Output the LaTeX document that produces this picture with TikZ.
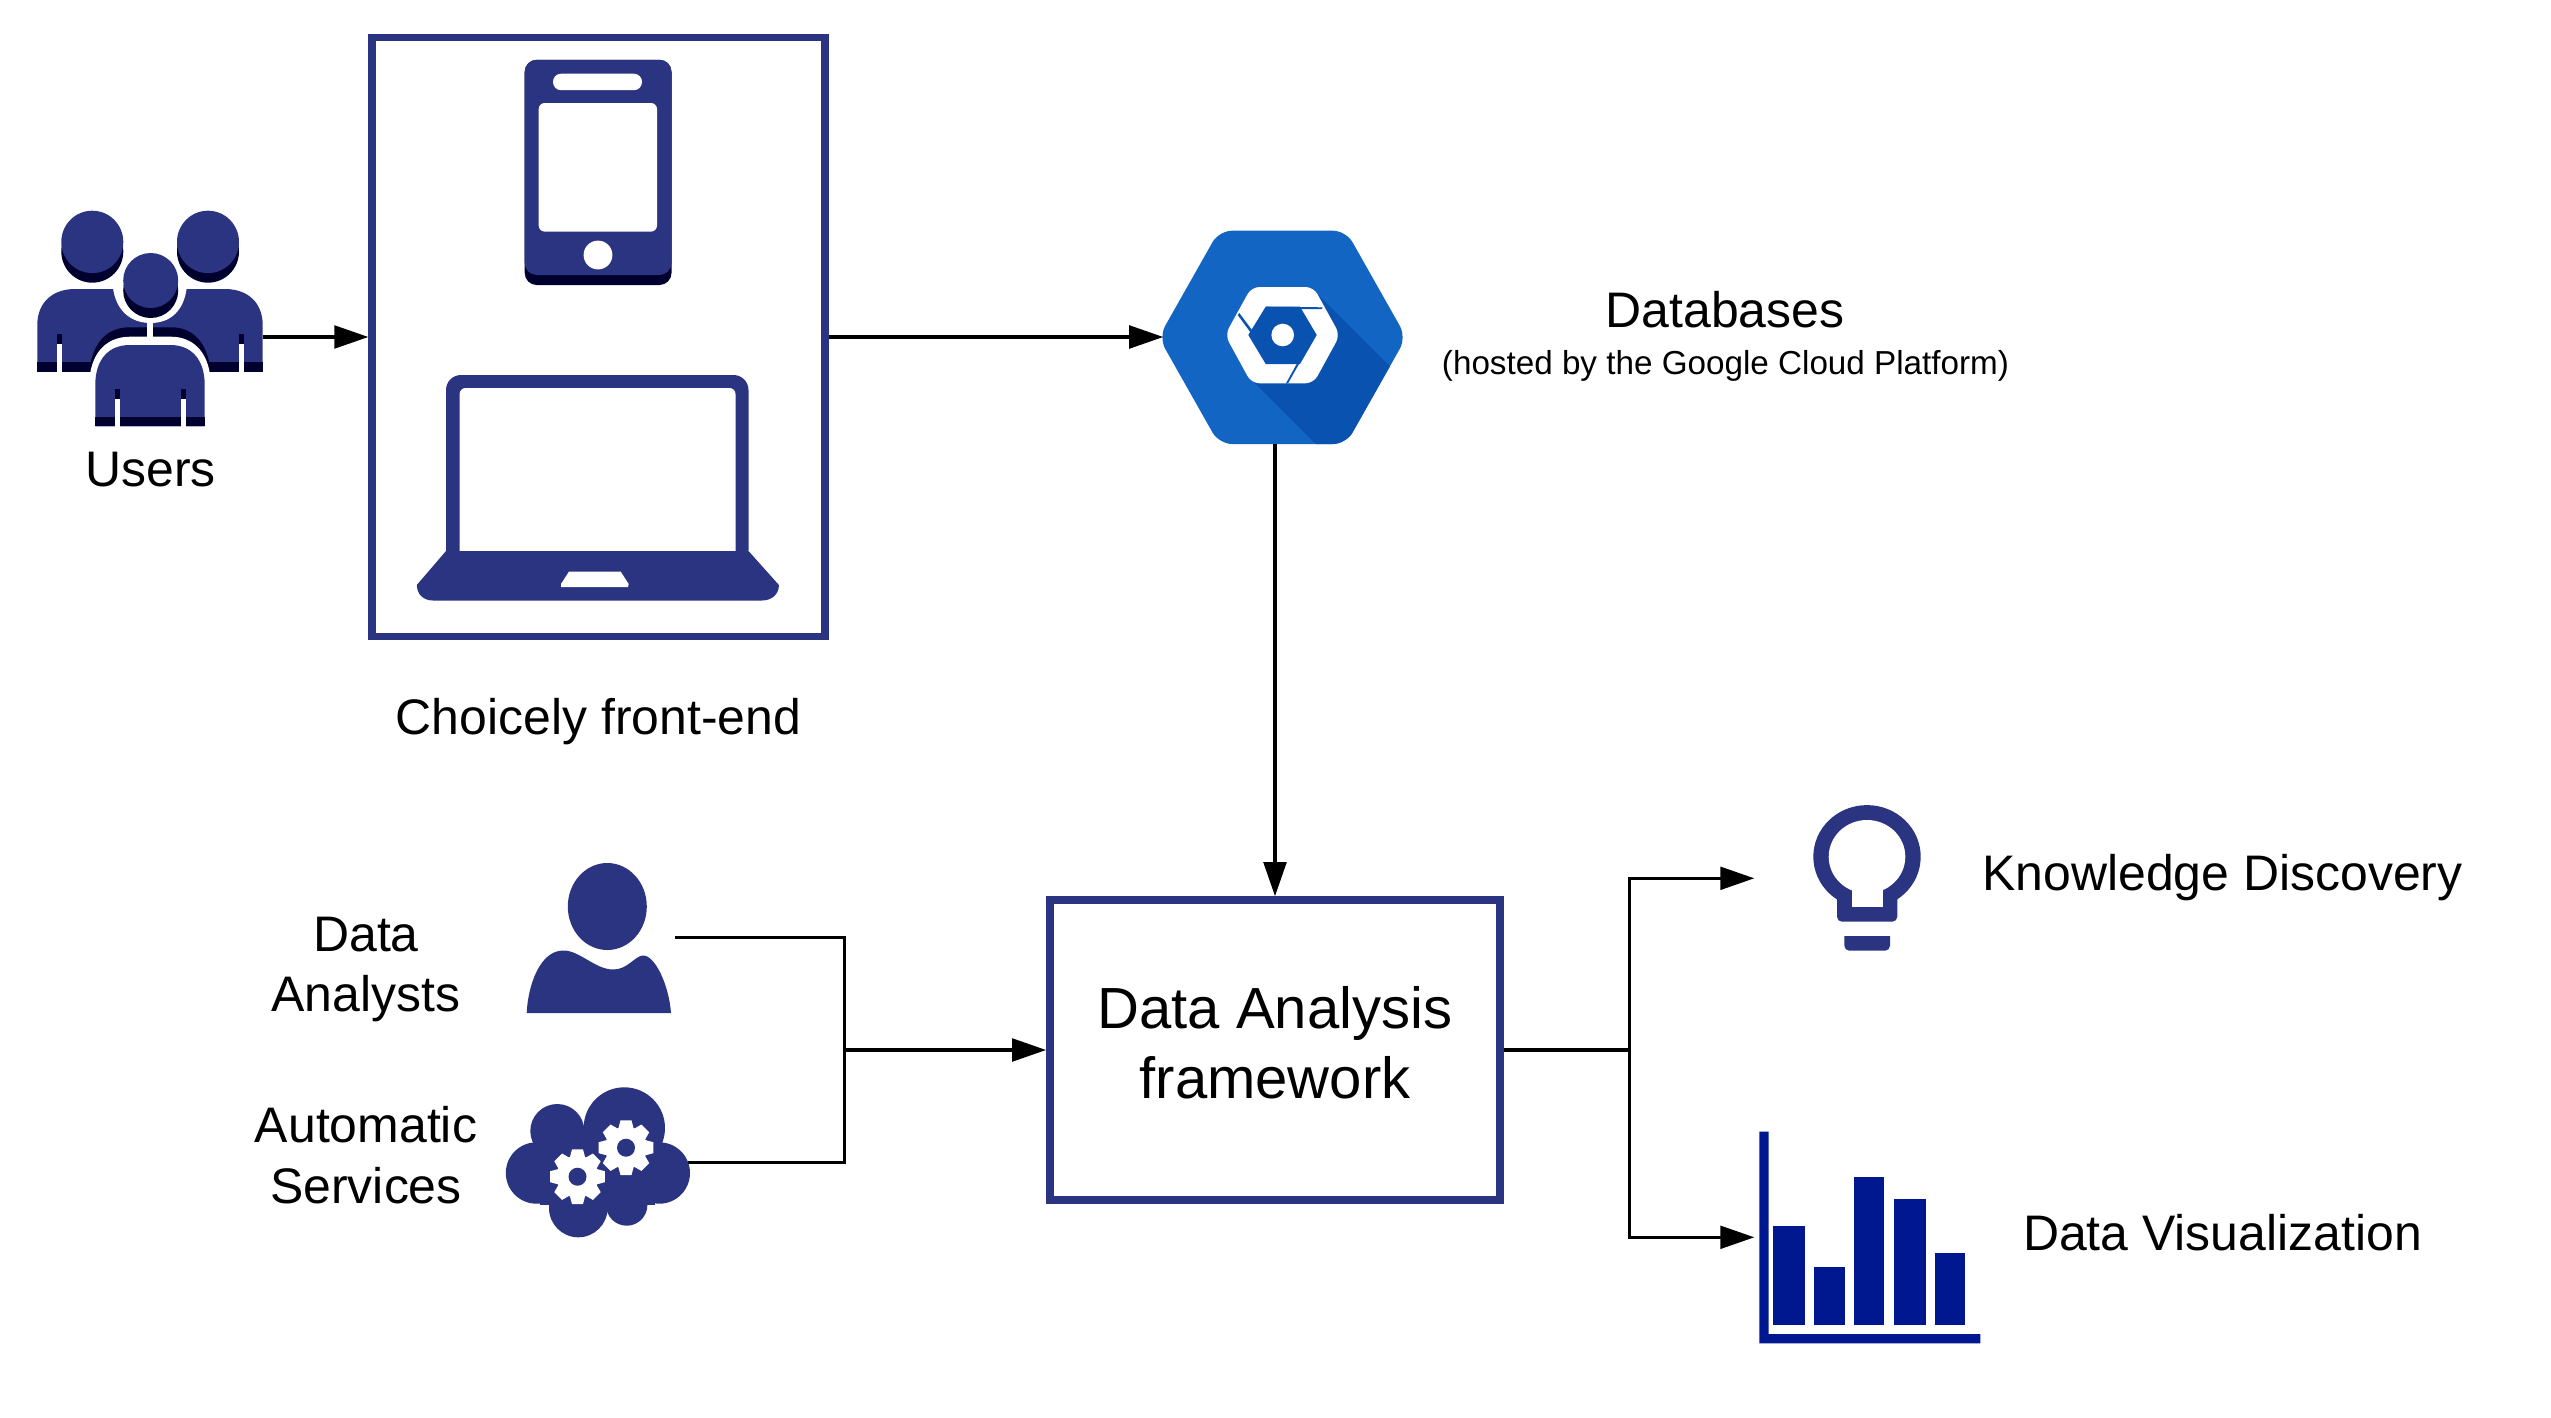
\documentclass[tikz,border=0pt]{standalone}
\usepackage{fontspec}
\setmainfont{Liberation Sans}
\usepackage{xcolor}
\usetikzlibrary{positioning,calc,arrows.meta}
\definecolor{IconNavy}{RGB}{43,52,129}
\definecolor{IconDark}{RGB}{0,0,46}
\definecolor{ChartBlue}{RGB}{0,24,143}
\definecolor{CloudBlue}{RGB}{18,101,195}
\definecolor{CloudDark}{RGB}{10,82,176}
\tikzset{
    framebox/.style={draw=IconNavy, line width=0.075cm, inner sep=0pt},
    iconbox/.style={inner sep=0pt, outer sep=0pt},
    link/.style={draw=black, line width=0.032cm},
    arrowlink/.style={link, -{Triangle[length=0.34cm, width=0.227cm]}},
    bigtext/.style={font=\fontsize{14.2}{17.07}\selectfont, align=center, inner sep=0pt},
    smalltext/.style={font=\fontsize{9.45}{11}\selectfont, inner sep=0pt},
    hugetext/.style={font=\fontsize{16.5}{19.9}\selectfont, align=center, inner sep=0pt}
}

\begin{document}
\begin{tikzpicture}[x=0.01cm, y=-0.01cm]
    \useasboundingbox (0,0) rectangle (2551,1418);

    % --- BOXES ---
    \node[framebox, minimum width=4.525cm, minimum height=5.99cm] (frontend) at (598.5,337) {};
    \node[framebox, hugetext, minimum width=4.5cm, minimum height=3cm, text depth=0.16cm] (framework) at (1275,1050) {Data Analysis\\framework};

    % --- ICON AREAS (connectors end on these) ---
    \node[iconbox, minimum width=2.254cm, minimum height=2.156cm] (users) at (150,318.5) {};
    \node[iconbox, minimum width=2.384cm, minimum height=2.133cm] (cloudhex) at (1282.5,337.3) {};
    \node[iconbox, minimum width=1.444cm, minimum height=1.9cm] (analyst) at (603,917) {};
    \node[iconbox, minimum width=1.82cm, minimum height=1.52cm] (services) at (597,1162.5) {};
    \coordinate (bulbtip) at (1754.3,878.3);
    \coordinate (charttip) at (1754.3,1237.3);

    % --- USERS ICON ---
    \fill[IconNavy] (37.3,371.7) -- (37.3,325) .. controls (37.3,303) and (52,289) .. (75,289) -- (225,289) .. controls (248,289) and (262.7,303) .. (262.7,325) -- (262.7,371.7) -- cycle;
    \fill[IconDark] (37.3,362) rectangle (262.7,371.7);
    \foreach \sx in {56.7,239} {
        \fill[IconDark] (\sx,334) rectangle ++(5,10);
        \fill[white] (\sx,344) rectangle ++(5,28.5);
    }
    % halo round the middle head
    \fill[white] (113,288) .. controls (116,310) and (130,323) .. (150.7,323) .. controls (171,323) and (184,310) .. (186.7,288) -- cycle;
    % heads at the back
    \foreach \hx in {92.3,208} {
        \fill[IconDark] (\hx,251.5) circle [x radius=31, y radius=31.2];
        \fill[IconNavy] (\hx,241.9) circle [x radius=31, y radius=31.2];
    }
    % shadow and halo above the front body
    \fill[IconDark] (89.3,371.7) .. controls (92,345) and (105,327.3) .. (130,327.3) -- (171,327.3) .. controls (195,327.3) and (208,345) .. (210.7,371.7) -- cycle;
    \fill[white] (89.3,427) -- (89.3,385) .. controls (89.3,355) and (105,336.7) .. (130,336.7) -- (171,336.7) .. controls (195,336.7) and (210.7,355) .. (210.7,385) -- (210.7,427) -- cycle;
    \fill[white] (146.7,320) rectangle (153.3,338);
    % middle head and front body
    \fill[IconDark] (150.7,290.5) circle [radius=27.5];
    \fill[IconNavy] (150.7,280.5) circle [radius=27.5];
    \fill[IconNavy] (95.3,426.3) -- (95.3,385) .. controls (95.3,360) and (108,345) .. (130,345) -- (170,345) .. controls (192,345) and (204.7,360) .. (204.7,385) -- (204.7,426.3) -- cycle;
    \fill[IconDark] (95.3,416.7) rectangle (204.7,426.3);
    \foreach \sx in {114.7,181} {
        \fill[IconDark] (\sx,389) rectangle ++(4.8,10);
        \fill[white] (\sx,399) rectangle ++(4.8,28);
    }

    % --- PHONE ICON ---
    \fill[IconDark, rounded corners=0.12cm] (524.7,59.8) rectangle (671.5,285);
    \fill[IconNavy, rounded corners=0.12cm] (524.7,59.8) rectangle (671.5,275);
    \fill[white, rounded corners=0.08cm] (553,73.7) rectangle (642,90.2);
    \fill[white, rounded corners=0.06cm] (538.7,103) rectangle (657,231.6);
    \fill[white] (598,255) circle [radius=14.4];

    % --- LAPTOP ICON ---
    \fill[IconNavy, rounded corners=0.15cm] (446,565) -- (446,375) -- (748.5,375) -- (748.5,565) -- cycle;
    \fill[white, rounded corners=0.06cm] (459.6,388) rectangle (735.5,560);
    \fill[IconNavy] (446,551) -- (748.5,551) -- (778.9,585) .. controls (779,594) and (772,600.5) .. (762,600.5) -- (433,600.5) .. controls (423,600.5) and (417,594) .. (416.8,585) -- cycle;
    \fill[white] (569,571.5) -- (620.6,571.5) -- (628.7,584) -- (628,587) -- (561,587) -- (561,584) -- cycle;

    % --- GOOGLE CLOUD ICON ---
    \begin{scope}
        \clip[rounded corners=0.13cm] (1158.7,337.3) -- (1219,230.7) -- (1346,230.7) -- (1406.3,337.3) -- (1346,444) -- (1219,444) -- cycle;
        \fill[CloudBlue] (1150,220) rectangle (1415,455);
        \fill[CloudDark] (1316.7,293.3) -- (1420,396.6) -- (1420,460) -- (1332,460) -- (1255,383.3) -- cycle;
    \end{scope}
    \fill[white, rounded corners=0.08cm] (1225,335) -- (1251.5,287) -- (1313.5,287) -- (1340,335) -- (1313.5,383.3) -- (1251.5,383.3) -- cycle;
    \fill[CloudDark] (1265.7,306.7) -- (1300,306.7) -- (1316.7,335) -- (1300,364) -- (1265.7,364) -- (1248.3,335) -- cycle;
    \fill[CloudDark] (1265.7,306.7) -- (1322.7,307.3) -- (1321.7,309) -- (1301.7,309) -- cycle;
    \fill[CloudDark] (1237.7,315) -- (1250.7,332.7) -- (1252,330) -- (1239.3,313) -- cycle;
    \fill[CloudDark] (1286,383.3) -- (1296.7,364) -- (1299,364) -- (1288,383.3) -- cycle;
    \fill[white] (1282.7,335) circle [radius=11.3];

    % --- DATA ANALYST ICON ---
    \fill[IconNavy] (607.3,906.5) circle [x radius=39.5, y radius=43.5];
    \fill[IconNavy] (526.7,1013) .. controls (528,985) and (540,950.5) .. (563.3,950.5) .. controls (580,950.5) and (595,969.5) .. (613.3,969.5) .. controls (628,969.5) and (635,955.5) .. (643.3,955.5) .. controls (655,955.5) and (669,985) .. (671,1013) -- cycle;

    % --- SERVICES ICON ---
    \foreach \cx/\cy/\cr in {624.3/1128/40.7, 557.3/1131/27, 536.5/1173/30.7, 659.3/1173/30.7, 578.3/1208/29.3, 626.7/1205/20.7} {
        \fill[IconNavy] (\cx,\cy) circle [radius=\cr];
    }
    \fill[IconNavy] (540,1135) rectangle (655,1205);
    \foreach \gx/\gy in {626/1147.7, 577.5/1176.7} {
        \begin{scope}[shift={(\gx,\gy)}]
            \fill[white] (0,0) circle [radius=21];
            \foreach \ang in {0,45,...,315} {
                \fill[white, rotate=\ang] (-8,-18) -- (-5.5,-27.3) -- (5.5,-27.3) -- (8,-18) -- cycle;
            }
            \fill[IconNavy] (0,0) circle [radius=9];
        \end{scope}
    }

    % --- LIGHT BULB ICON ---
    \fill[IconNavy] (1867,856.7) circle [x radius=53.7, y radius=51.6];
    \fill[IconNavy, rounded corners=0.05cm] (1837,880) rectangle (1897.3,921.7);
    \fill[white] (1867,856.7) circle [x radius=38.3, y radius=36.7];
    \fill[white] (1852,880) rectangle (1882.7,907.3);
    \fill[IconNavy, rounded corners=0.05cm] (1844.3,925) rectangle (1890,950.7);
    \fill[white] (1840,925) rectangle (1895,936);

    % --- BAR CHART ICON ---
    \fill[ChartBlue] (1759.3,1131.7) -- (1768.7,1131.7) -- (1768.7,1334) -- (1980.3,1334) -- (1980.3,1343.3) -- (1759.3,1343.3) -- cycle;
    \foreach \bl/\br/\bt in {1773/1805/1226, 1814/1845/1267, 1854/1884/1177, 1894/1926/1199, 1935/1965/1253} {
        \fill[ChartBlue] (\bl,1324.7) rectangle (\br,\bt);
    }

    % --- LABELS ---
    \node[bigtext, anchor=base] (userslabel) at (150.7,486) {Users};
    \node[bigtext, anchor=base] (frontendlabel) at (598.5,734) {Choicely front-end};
    \node[bigtext, anchor=base] (dblabel) at (1725,327.5) {Databases};
    \node[smalltext, anchor=base] (dbsublabel) at (1725.5,374) {(hosted by the Google Cloud Platform)};
    \node[bigtext, anchor=base] (analystlabel) at (366,1011.5) {Data\\Analysts};
    \node[bigtext, anchor=base] (serviceslabel) at (366,1203) {Automatic\\Services};
    \node[bigtext, anchor=base] (bulblabel) at (2222.5,890) {Knowledge Discovery};
    \node[bigtext, anchor=base] (chartlabel) at (2222.5,1250) {Data Visualization};

    % --- CONNECTORS ---
    \draw[arrowlink] (users.east |- frontend.west) -- (frontend.west);
    \draw[arrowlink] (frontend.east) -- (cloudhex.west |- frontend.east);
    \draw[arrowlink] (cloudhex.south -| framework.north) -- (framework.north);
    \draw[link] (analyst.east |- 675,937.3) -| (844.6,1162.5) -- (services.east);
    \draw[arrowlink] (844.6,1050) -- (framework.west);
    \draw[link] (framework.east) -- (1629.5,1050);
    \draw[arrowlink] (1629.5,1050) |- (bulbtip);
    \draw[arrowlink] (1629.5,1050) |- (charttip);
\end{tikzpicture}
\end{document}
